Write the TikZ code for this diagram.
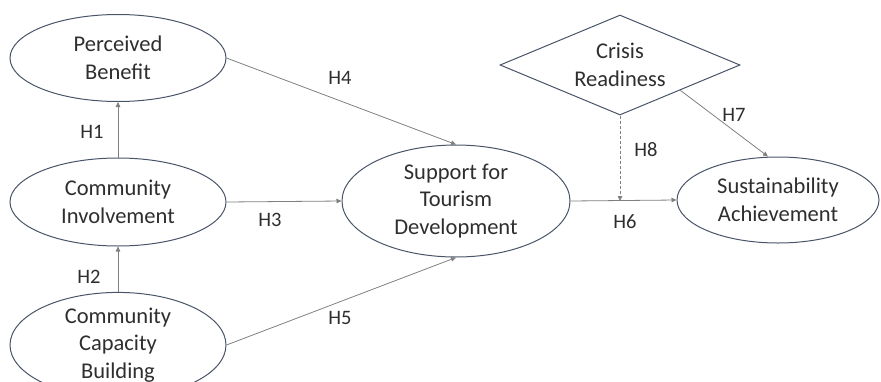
\documentclass[tikz,border=0pt]{standalone}
\usepackage{fontspec}
\setmainfont{Carlito}
\usetikzlibrary{shapes.geometric,arrows.meta,calc}
\definecolor{txt}{HTML}{2E2E2E}
\definecolor{brd}{HTML}{4A5468}
\definecolor{lnk}{HTML}{808080}
\begin{document}
\begin{tikzpicture}[x=1pt,y=-1pt,
  latent/.style={ellipse,draw=brd,line width=1pt,inner sep=0pt,align=center,
    text=txt,font=\fontsize{22.5}{27.5}\selectfont},
  moder/.style={diamond,draw=brd,line width=1pt,inner sep=0pt,aspect=2.4,
    minimum width=240pt,minimum height=100pt,align=center,text=txt,
    font=\fontsize{22.5}{27.5}\selectfont},
  link/.style={draw=lnk,line width=0.8pt,-{Triangle[length=5pt,width=4.5pt]}},
  hlab/.style={text=txt,font=\fontsize{20.5}{24}\selectfont,inner sep=0pt}]
\clip (0,0) rectangle (881,381);
\node[latent,minimum width=216pt,minimum height=87pt] (pb) at (118,58) {Perceived\\Benefit};
\node[latent,minimum width=216pt,minimum height=88pt] (ci) at (118,202) {Community\\Involvement};
\node[latent,minimum width=216pt,minimum height=88pt] (ccb) at (118,345) {Community\\Capacity\\Building};
\node[latent,minimum width=228pt,minimum height=112pt] (std) at (456,201) {Support for\\Tourism\\Development};
\node[latent,minimum width=202pt,minimum height=86pt] (sa) at (778,200) {Sustainability\\Achievement};
\node[moder] (cr) at (620,65) {Crisis\\Readiness};
\coordinate (h8end) at (cr.south |- std.east);
\draw[link] (ci) -- (pb);
\draw[link] (ccb) -- (ci);
\draw[link] (ci.east) -- (std.west);
\draw[link] (pb.east) -- (std.north);
\draw[link] (ccb.east) -- (std.south);
\draw[link] (std.east) -- (sa.west);
\draw[link] (cr.south east) -- ($(sa.north)+(-10,0)$);
\draw[link,dashed,dash pattern=on 3pt off 2pt] (cr.south) -- (h8end);
\node[hlab] (l1) at (92,132) {H1};
\node[hlab] (l2) at (89,277) {H2};
\node[hlab] (l3) at (270,220) {H3};
\node[hlab] (l4) at (340,78) {H4};
\node[hlab] (l5) at (340,318) {H5};
\node[hlab] (l6) at (625,222) {H6};
\node[hlab] (l7) at (734,115) {H7};
\node[hlab] (l8) at (646,150) {H8};
\end{tikzpicture}
\end{document}
